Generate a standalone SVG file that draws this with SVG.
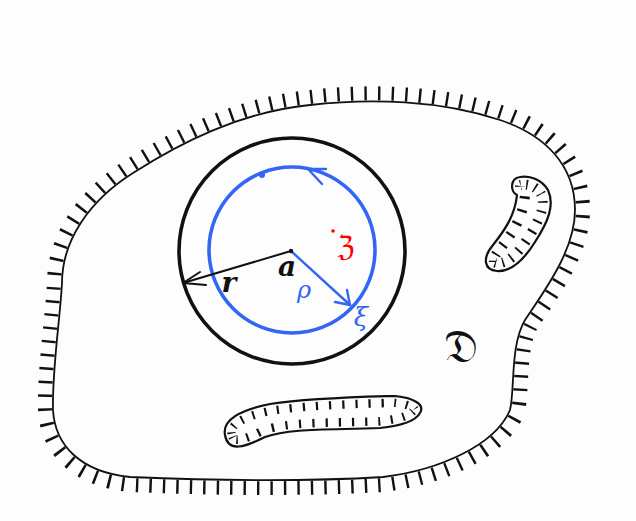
<svg xmlns="http://www.w3.org/2000/svg" xmlns:xlink="http://www.w3.org/1999/xlink" width="636" height="521" viewBox="0 0 636 521">
<style>
.ink{fill:none;stroke:#111;stroke-linecap:round;stroke-linejoin:round}
.blue{fill:none;stroke:#3366f5;stroke-linecap:round;stroke-linejoin:round}
.lbl{font-family:"DejaVu Serif","Liberation Serif",serif;font-style:italic}
</style>
<defs>
<path id="blob" d="M 62,283 C 62,240 90,200 133,173 C 180,143 240,112 310,105 C 370,98 440,100 500,120 C 545,135 575,165 575,210 C 575,250 545,290 525,320 C 510,345 515,390 510,410 C 495,445 440,470 383,477 C 300,482 200,480 130,477 C 80,472 55,445 53,410 C 52,370 60,320 62,283 Z"/>
<path id="hole1" d="M 520,177 C 510,178 510,192 517,195 C 515,215 505,230 493,245 C 482,258 484,270 497,271 C 512,272 525,258 535,242 C 548,222 555,205 548,190 C 542,180 530,175 520,177 Z"/>
<path id="hole2" d="M 225,435 C 222,420 240,410 270,404 C 310,398 360,397 395,396 C 415,398 425,405 420,413 C 415,422 400,426 380,428 C 330,430 290,428 265,437 C 245,447 228,453 225,435 Z"/>
<mask id="outside"><rect width="636" height="521" fill="#fff"/><use xlink:href="#blob" fill="#000" stroke="#000" stroke-width="2"/></mask>
<mask id="in1"><use xlink:href="#hole1" fill="#fff" stroke="#000" stroke-width="6"/></mask>
<mask id="in2"><use xlink:href="#hole2" fill="#fff" stroke="#000" stroke-width="5"/></mask>
</defs>
<rect width="636" height="521" fill="#fdfdfd"/>
<g id="region">
<use xlink:href="#blob" class="ink" stroke-width="1.8"/>
<use xlink:href="#blob" fill="none" stroke="#111" stroke-width="30" stroke-dasharray="2.4 11" stroke-dashoffset="6" mask="url(#outside)"/>
</g>
<g id="hole-right">
<use xlink:href="#hole1" fill="none" stroke="#111" stroke-width="26" stroke-dasharray="2.2 10" mask="url(#in1)"/>
<use xlink:href="#hole1" class="ink" stroke-width="2.2"/>
</g>
<g id="hole-bottom">
<use xlink:href="#hole2" fill="none" stroke="#111" stroke-width="22" stroke-dasharray="2.2 11" mask="url(#in2)"/>
<use xlink:href="#hole2" class="ink" stroke-width="2.2"/>
</g>
<g id="disk-r">
<circle cx="292" cy="251" r="113" class="ink" stroke-width="3.6"/>
</g>
<g id="circle-rho">
<circle cx="292" cy="250" r="83" class="blue" stroke-width="3.6"/>
<circle cx="262" cy="175" r="3" fill="#3366f5"/>
</g>
<g id="connectors">
<path d="M 291,251 L 183,283" class="ink" stroke-width="2"/>
<path d="M 200,272 L 183,283 L 206,285" class="ink" stroke-width="2"/>
<path d="M 291,251 L 350,305" class="blue" stroke-width="2.4"/>
<path d="M 335,302 L 350,305 L 347,290" class="blue" stroke-width="2.4"/>
<path d="M 326,169 L 308,169 L 322,184" class="blue" stroke-width="2.4"/>
<circle cx="291" cy="251" r="2.2" fill="#111"/>
</g>
<g id="labels">
<text x="287" y="276" class="lbl" font-size="28" font-weight="bold" fill="#111" text-anchor="middle">a</text>
<text x="229" y="292" class="lbl" font-size="28" font-weight="bold" fill="#111" text-anchor="middle">r</text>
<text x="304" y="298" class="lbl" font-size="24" fill="#3366f5" text-anchor="middle">ρ</text>
<text x="361" y="326" class="lbl" font-size="26" fill="#3366f5" text-anchor="middle">ξ</text>
<circle cx="333" cy="231" r="1.8" fill="#f00"/>
<text x="346" y="256" font-family="DejaVu Sans, sans-serif" font-size="28" fill="#f00" text-anchor="middle">ℨ</text>
<text x="461" y="362" font-family="DejaVu Sans, sans-serif" font-size="46" fill="#111" text-anchor="middle">𝔇</text>
</g>
</svg>
